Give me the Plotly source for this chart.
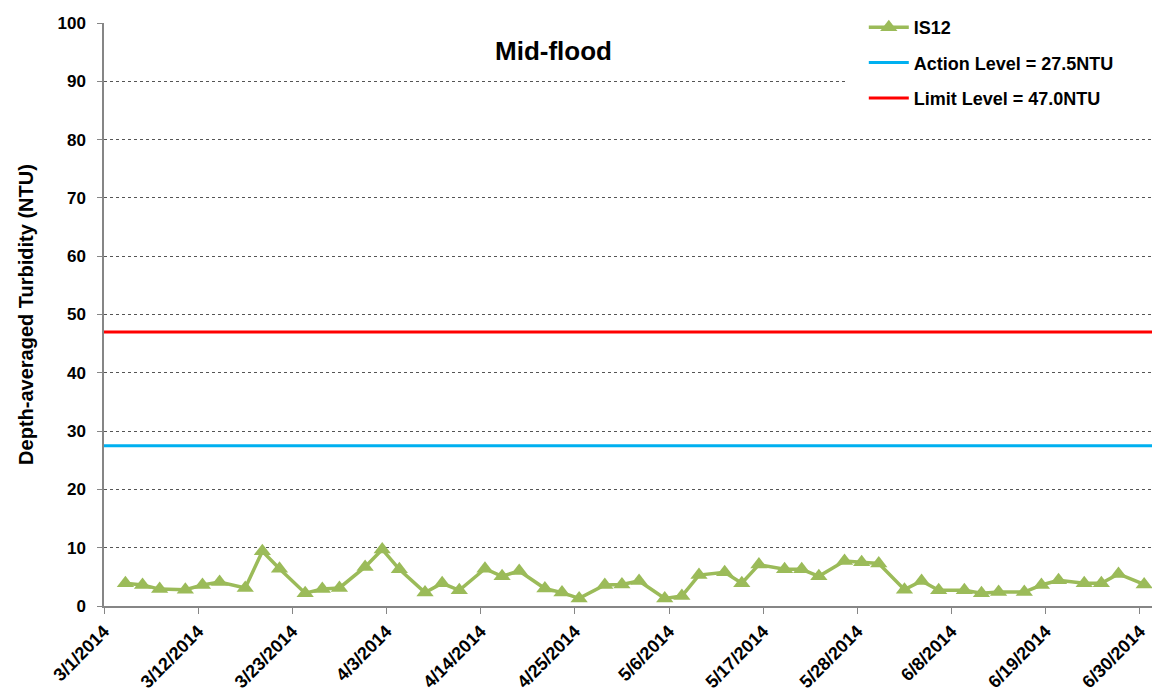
import plotly.graph_objects as go

# ---- data ----
sample_times = [
    "2014-03-03 12:00", "2014-03-05 12:00", "2014-03-07 12:00", "2014-03-10 12:00",
    "2014-03-12 12:00", "2014-03-14 12:00", "2014-03-17 12:00", "2014-03-19 12:00",
    "2014-03-21 12:00", "2014-03-24 12:00", "2014-03-26 12:00", "2014-03-28 12:00",
    "2014-03-31 12:00", "2014-04-02 12:00", "2014-04-04 12:00", "2014-04-07 12:00",
    "2014-04-09 12:00", "2014-04-11 12:00", "2014-04-14 12:00", "2014-04-16 12:00",
    "2014-04-18 12:00", "2014-04-21 12:00", "2014-04-23 12:00", "2014-04-25 12:00",
    "2014-04-28 12:00", "2014-04-30 12:00", "2014-05-02 12:00", "2014-05-05 12:00",
    "2014-05-07 12:00", "2014-05-09 12:00", "2014-05-12 12:00", "2014-05-14 12:00",
    "2014-05-16 12:00", "2014-05-19 12:00", "2014-05-21 12:00", "2014-05-23 12:00",
    "2014-05-26 12:00", "2014-05-28 12:00", "2014-05-30 12:00", "2014-06-02 12:00",
    "2014-06-04 12:00", "2014-06-06 12:00", "2014-06-09 12:00", "2014-06-11 12:00",
    "2014-06-13 12:00", "2014-06-16 12:00", "2014-06-18 12:00", "2014-06-20 12:00",
    "2014-06-23 12:00", "2014-06-25 12:00", "2014-06-27 12:00", "2014-06-30 12:00",
]
is12_values = [
    3.9, 3.6, 2.9, 2.8, 3.6, 4.1, 3.1, 9.4, 6.4, 2.2, 2.9, 3.1, 6.7, 9.7, 6.3, 2.3,
    3.9, 2.7, 6.4, 5.1, 6.0, 3.0, 2.3, 1.3, 3.6, 3.7, 4.3, 1.3, 1.7, 5.3, 5.8, 3.9,
    7.1, 6.3, 6.3, 5.1, 7.7, 7.5, 7.3, 2.8, 4.3, 2.7, 2.7, 2.2, 2.4, 2.4, 3.6, 4.4,
    3.9, 3.9, 5.5, 3.7,
]
action_level = 27.5
limit_level = 47.0
x_range = ["2014-03-01", "2014-07-01 10:00"]
tick_dates = ["2014-03-01", "2014-03-12", "2014-03-23", "2014-04-03", "2014-04-14",
              "2014-04-25", "2014-05-06", "2014-05-17", "2014-05-28", "2014-06-08",
              "2014-06-19", "2014-06-30"]
tick_labels = ["3/1/2014", "3/12/2014", "3/23/2014", "4/3/2014", "4/14/2014",
               "4/25/2014", "5/6/2014", "5/17/2014", "5/28/2014", "6/8/2014",
               "6/19/2014", "6/30/2014"]
y_ticks = [0, 10, 20, 30, 40, 50, 60, 70, 80, 90, 100]

FONT = "Arial, Liberation Sans, sans-serif"

fig = go.Figure()
fig.add_trace(go.Scatter(
    x=sample_times, y=is12_values, name="IS12", mode="lines+markers",
    legendgroup="a",
    line=dict(color="#9BBB59", width=3.5),
    marker=dict(symbol="triangle-up", size=15, color="#9BBB59"),
))
fig.add_trace(go.Scatter(
    x=x_range, y=[action_level, action_level], name="Action Level = 27.5NTU",
    legendgroup="b", mode="lines", line=dict(color="#00B0F0", width=3),
))
fig.add_trace(go.Scatter(
    x=x_range, y=[limit_level, limit_level], name="Limit Level = 47.0NTU",
    legendgroup="c", mode="lines", line=dict(color="#FF0000", width=3),
))

fig.update_layout(
    width=1161, height=691,
    margin=dict(l=104, r=9, t=23, b=85, autoexpand=False),
    plot_bgcolor="white", paper_bgcolor="white",
    font=dict(family=FONT, size=16, color="black"),
    showlegend=True,
    legend=dict(
        x=0.725, y=1.024, xanchor="left", yanchor="top",
        bgcolor="rgba(0,0,0,0)",
        font=dict(family=FONT, size=18, color="black", weight="bold"),
        tracegroupgap=9, itemwidth=40,
    ),
    shapes=[dict(
        type="rect", xref="paper", yref="paper", x0=0.709, x1=1.0, y0=0.87, y1=1.05,
        fillcolor="white", line=dict(width=0), layer="above",
    )],
    annotations=[dict(
        text="Mid-flood", xref="paper", yref="paper", x=0.429, y=0.952,
        xanchor="center", yanchor="middle", showarrow=False,
        font=dict(family=FONT, size=26, color="black", weight="bold"),
    )],
)
fig.update_xaxes(
    range=x_range, tickmode="array", tickvals=tick_dates,
    ticktext=tick_labels, tickangle=-45,
    tickfont=dict(family=FONT, size=18, color="black", weight="bold"),
    showgrid=False, showline=True, linecolor="#868686", linewidth=1.5,
    ticks="outside", ticklen=6, tickcolor="#868686", zeroline=False,
)
fig.update_yaxes(
    range=[0, 100], tickmode="array", tickvals=y_ticks,
    ticktext=[str(v) for v in y_ticks],
    tickfont=dict(family=FONT, size=17, color="black", weight="bold"),
    ticklabelstandoff=8,
    title=dict(text="Depth-averaged Turbidity (NTU)",
               font=dict(family=FONT, size=20, color="black", weight="bold"),
               standoff=18),
    showgrid=True, gridcolor="#555555", gridwidth=1, griddash="dot",
    showline=True, linecolor="#868686", linewidth=1.5,
    ticks="outside", ticklen=5, tickcolor="#868686", zeroline=False,
)

fig.write_html("out.html", config={"displayModeBar": False},
               post_script="document.body.style.margin='0';")
